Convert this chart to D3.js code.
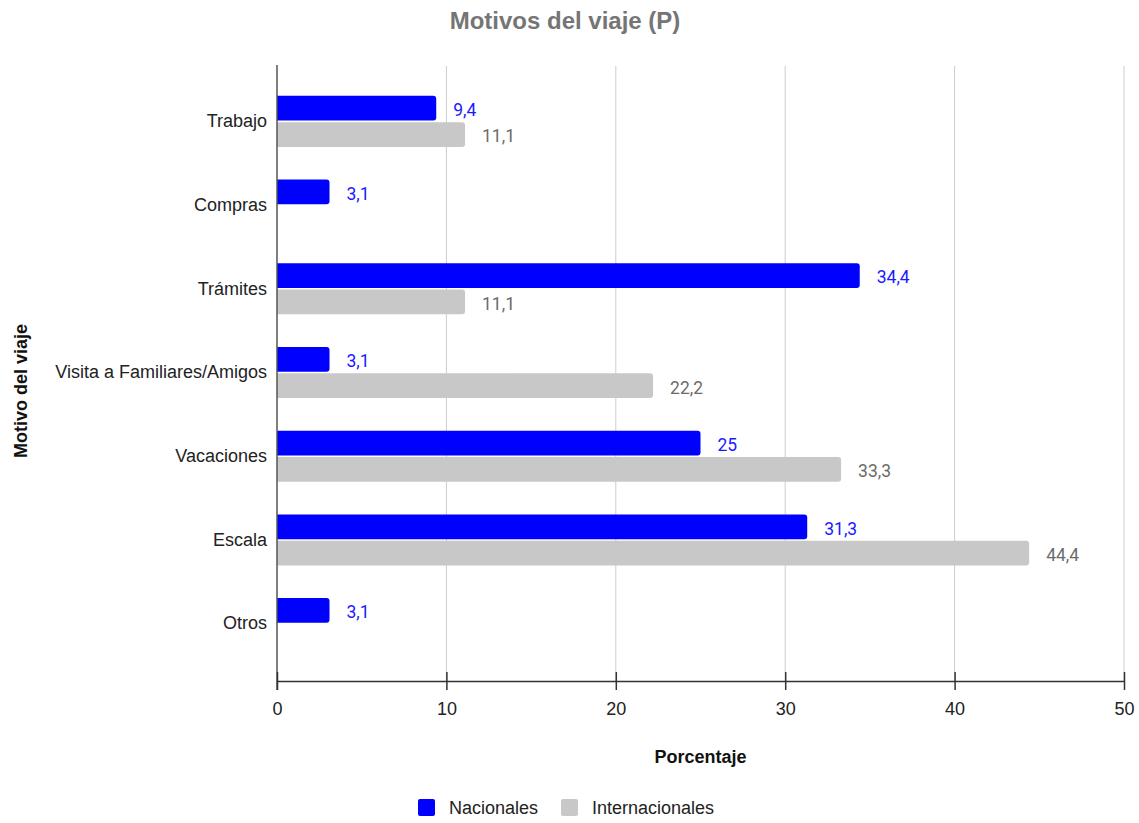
<!DOCTYPE html>
<html>
<head>
<meta charset="utf-8">
<script src="https://cdn.jsdelivr.net/npm/d3@7"></script>
<style>
  body { margin: 0; background: #fff; }
  svg { display: block; }
</style>
</head>
<body>
<script>
// Travel reasons, national vs international respondents (percent)
const categories = ["Trabajo", "Compras", "Trámites", "Visita a Familiares/Amigos", "Vacaciones", "Escala", "Otros"];
const seriesNames = ["Nacionales", "Internacionales"];
const nacionales = [9.4, 3.1, 34.4, 3.1, 25, 31.3, 3.1];
const internacionales = [11.1, null, 11.1, 22.2, 33.3, 44.4, null];
const xTicks = [0, 10, 20, 30, 40, 50];
const seriesColors = ["#0000ff", "#c8c8c8"];
const labelColors = ["#1a1aff", "#6b6b6b"];

const W = 1139, H = 823;
const plot = { left: 277, right: 1124, top: 66, bottom: 681 };
const FONT = "Liberation Sans, Arial, sans-serif";

const svg = d3.select("body").append("svg").attr("width", W).attr("height", H);

const x = d3.scaleLinear().domain([0, 50]).range([plot.left, plot.right]);
const y0 = d3.scaleBand().domain(categories).range([79.5, 665.5])
  .paddingInner(0.39).paddingOuter(0.195);
const y1 = d3.scaleBand().domain(seriesNames).range([0, y0.bandwidth()]).paddingInner(0.06);

// Title
svg.append("text")
  .attr("x", 565).attr("y", 29)
  .attr("text-anchor", "middle")
  .attr("font-family", FONT)
  .attr("font-size", 24).attr("font-weight", "bold")
  .attr("fill", "#757575")
  .text("Motivos del viaje (P)");

// Vertical gridlines
svg.append("g").selectAll("line")
  .data(xTicks.filter(d => d > 0))
  .join("line")
  .attr("x1", d => x(d)).attr("x2", d => x(d))
  .attr("y1", plot.top).attr("y2", plot.bottom)
  .attr("stroke", "#cccccc").attr("stroke-width", 1);

// Bars: square on the axis side, rounded at the value end
function barPath(x0, x1, yTop, h, r) {
  r = Math.min(r, (x1 - x0) / 2, h / 2);
  return `M${x0},${yTop}H${x1 - r}Q${x1},${yTop} ${x1},${yTop + r}` +
         `V${yTop + h - r}Q${x1},${yTop + h} ${x1 - r},${yTop + h}H${x0}Z`;
}

const rows = categories.map((c, i) => ({
  cat: c,
  vals: [
    { s: seriesNames[0], v: nacionales[i], k: 0 },
    { s: seriesNames[1], v: internacionales[i], k: 1 }
  ].filter(d => d.v !== null)
}));

const groups = svg.append("g").selectAll("g")
  .data(rows).join("g")
  .attr("transform", d => `translate(0,${y0(d.cat)})`);

groups.selectAll("path")
  .data(d => d.vals).join("path")
  .attr("d", d => barPath(x(0), x(d.v), y1(d.s), y1.bandwidth(), 3))
  .attr("fill", d => seriesColors[d.k]);

groups.selectAll("text")
  .data(d => d.vals).join("text")
  .attr("x", d => x(d.v) + 17)
  .attr("y", d => y1(d.s) + y1.bandwidth() / 2)
  .attr("dy", "0.45em")
  .attr("font-family", "Roboto, sans-serif")
  .attr("font-size", 17.5)
  .attr("fill", d => labelColors[d.k])
  .text(d => String(d.v).replace(".", ","));

// Y axis (category labels)
const yAxis = svg.append("g").attr("transform", `translate(${plot.left},0)`)
  .call(d3.axisLeft(y0).tickSize(0).tickPadding(10));
yAxis.select(".domain").remove();
yAxis.selectAll("text")
  .attr("font-family", FONT)
  .attr("font-size", 18).attr("fill", "#222");
svg.append("line")
  .attr("x1", plot.left).attr("x2", plot.left)
  .attr("y1", plot.top - 1).attr("y2", plot.bottom + 9)
  .attr("stroke", "#555").attr("stroke-width", 1.5);

// X axis
const xAxis = svg.append("g").attr("transform", `translate(0,${plot.bottom})`)
  .call(d3.axisBottom(x).tickValues(xTicks).tickSize(9).tickPadding(12).tickSizeOuter(0));
xAxis.select(".domain").attr("stroke", "#333").attr("stroke-width", 1.5);
xAxis.selectAll(".tick line").attr("stroke", "#333").attr("stroke-width", 1.5).attr("y1", -9);
xAxis.selectAll("text")
  .attr("font-family", FONT)
  .attr("font-size", 18).attr("fill", "#222");

// Axis titles
svg.append("text")
  .attr("x", (plot.left + plot.right) / 2).attr("y", 763)
  .attr("text-anchor", "middle")
  .attr("font-family", FONT)
  .attr("font-size", 18).attr("font-weight", "bold").attr("fill", "#111")
  .text("Porcentaje");

svg.append("text")
  .attr("transform", `translate(27,391) rotate(-90)`)
  .attr("text-anchor", "middle")
  .attr("font-family", FONT)
  .attr("font-size", 18).attr("font-weight", "bold").attr("fill", "#111")
  .text("Motivo del viaje");

// Legend
const legendItems = [
  { name: seriesNames[0], color: seriesColors[0], x: 418 },
  { name: seriesNames[1], color: seriesColors[1], x: 561 }
];
const legend = svg.append("g").selectAll("g").data(legendItems).join("g")
  .attr("transform", d => `translate(${d.x},799)`);
legend.append("rect")
  .attr("width", 17).attr("height", 17).attr("rx", 2)
  .attr("fill", d => d.color);
legend.append("text")
  .attr("x", 31).attr("y", 8.5).attr("dy", "0.36em")
  .attr("font-family", FONT)
  .attr("font-size", 18).attr("fill", "#222")
  .text(d => d.name);
</script>
</body>
</html>
